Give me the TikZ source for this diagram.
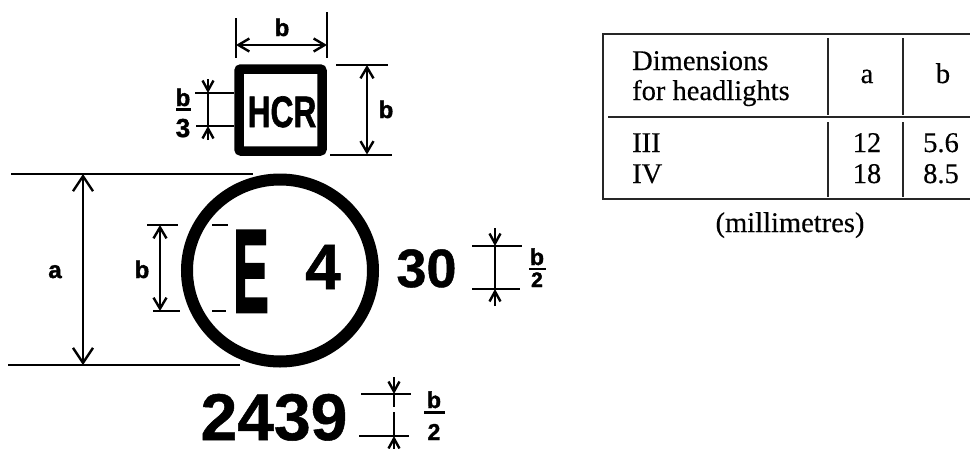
\documentclass[tikz,border=0pt]{standalone}
\usepackage{graphicx}
\usepackage{fontspec}
\setmainfont{Liberation Serif}[RawFeature={embolden=0.4}]
\newfontfamily\signfont{Liberation Sans Bold}[RawFeature={embolden=1.6}]
\newfontfamily\bigfont{Liberation Sans Bold}[RawFeature={embolden=0.8}]
\newfontfamily\efont{Liberation Sans Bold}[RawFeature={embolden=2.5}]
\usetikzlibrary{arrows.meta}
\newcommand{\sgn}[3][1]{\scalebox{#1}[1]{\fontsize{#2}{#2}\signfont #3}}
\newcommand{\bgn}[2]{\fontsize{#1}{#1}\bigfont #2}
\tikzset{
  x=1pt,y=-1pt,
  dimline/.style={line width=2pt,{Straight Barb[length=11pt,width=13pt,line width=2.4pt]}-{Straight Barb[length=11pt,width=13pt,line width=2.4pt]}},
  inarrow/.style={line width=2pt,-{Straight Barb[length=10pt,width=11pt,line width=2.4pt]}},
  extline/.style={line width=2pt},
  tabline/.style={line width=1.2pt,black!85},
  lab/.style={inner sep=0pt,anchor=base},
  tabtext/.style={inner sep=0pt,anchor=base,font=\fontsize{28.5}{29}\selectfont},
  tableft/.style={inner sep=0pt,anchor=base west,font=\fontsize{28.5}{29}\selectfont},
  fracbar/.style={line width=2.6pt},
}
\begin{document}
\begin{tikzpicture}
\useasboundingbox (0,0) rectangle (970,448);
% HCR plate
\draw[line width=9.5pt,rounded corners=2pt] (239,69) rectangle (322,151);
\node[lab] (hcr) at (282,127) {\sgn[0.72]{44}{HCR}};
% top dimension
\coordinate (t1a) at (236,18); \coordinate (t1b) at (236,58);
\coordinate (t2a) at (327,12); \coordinate (t2b) at (327,58);
\coordinate (ta) at (236,45); \coordinate (tb) at (327,45);
\draw[extline] (t1a)--(t1b); \draw[extline] (t2a)--(t2b);
\draw[dimline] (ta)--(tb);
\node[lab] (lbt) at (282,36) {\sgn{24}{b}};
% right dimension
\coordinate (r1a) at (336,65); \coordinate (r1b) at (388,65);
\coordinate (r2a) at (330,154.5); \coordinate (r2b) at (392,154.5);
\coordinate (ra) at (367,65); \coordinate (rb) at (367,154.5);
\draw[extline] (r1a)--(r1b); \draw[extline] (r2a)--(r2b);
\draw[dimline] (ra)--(rb);
\node[lab] (lbr) at (386,118) {\sgn{24}{b}};
% b/3
\coordinate (l1a) at (195,93); \coordinate (l1b) at (234,93);
\coordinate (l2a) at (196,126); \coordinate (l2b) at (234,126);
\coordinate (lta) at (208,79); \coordinate (ltb) at (208,93);
\coordinate (lba) at (208,140); \coordinate (lbb) at (208,126);
\draw[extline] (l1a)--(l1b); \draw[extline] (l2a)--(l2b);
\draw[inarrow] (lta)--(ltb); \draw[inarrow] (lba)--(lbb);
\draw[extline] (ltb)--(lbb);
\node[lab] (b3n) at (183,106) {\sgn{24}{b}};
\coordinate (b3a) at (176,109.5); \coordinate (b3b) at (191,109.5);
\draw[fracbar] (b3a)--(b3b);
\node[lab] (b3d) at (183,137) {\sgn{26}{3}};
% circle
\draw[line width=12pt] (280,270.5) ellipse [x radius=93,y radius=91];
\node[lab] (e) at (251,312) {\scalebox{0.45}[1]{\fontsize{118}{118}\efont E}};
\node[lab] (four) at (323,289) {\bgn{64}{4}};
\node[lab] (thirty) at (426.5,287) {\bgn{54}{30}};
\node[lab] (num) at (274,440) {\bgn{66}{2439}};
% a dimension
\coordinate (a1a) at (11,174); \coordinate (a1b) at (253,174);
\coordinate (a2a) at (8,365); \coordinate (a2b) at (240,365);
\coordinate (aa) at (83,174); \coordinate (ab) at (83,365);
\draw[extline] (a1a)--(a1b); \draw[extline] (a2a)--(a2b);
\draw[line width=2pt,{Straight Barb[length=15pt,width=20pt,line width=2.4pt]}-{Straight Barb[length=15pt,width=20pt,line width=2.4pt]}] (aa)--(ab);
\node[lab] (lba2) at (55,278) {\sgn{24}{a}};
% b dimension at circle
\coordinate (c1a) at (147,225); \coordinate (c1b) at (178,225);
\coordinate (c2a) at (153,311); \coordinate (c2b) at (180,311);
\coordinate (ca) at (160,225); \coordinate (cb) at (160,311);
\draw[extline] (c1a)--(c1b); \draw[extline] (c2a)--(c2b);
\draw[dimline] (ca)--(cb);
\node[lab] (lbc) at (142,278) {\sgn{24}{b}};
\coordinate (d1a) at (212,225); \coordinate (d1b) at (228,225);
\coordinate (d2a) at (212,311); \coordinate (d2b) at (226,311);
\draw[extline] (d1a)--(d1b); \draw[extline] (d2a)--(d2b);
% b/2 by 30
\coordinate (e1a) at (472,246); \coordinate (e1b) at (522,246);
\coordinate (e2a) at (472,289); \coordinate (e2b) at (520,289);
\coordinate (eta) at (495,228); \coordinate (etb) at (495,246);
\coordinate (eba) at (495,306); \coordinate (ebb) at (495,289);
\draw[extline] (e1a)--(e1b); \draw[extline] (e2a)--(e2b);
\draw[inarrow] (eta)--(etb); \draw[inarrow] (eba)--(ebb);
\draw[extline] (etb)--(ebb);
\node[lab] (b2n) at (537,265) {\sgn{23}{b}};
\coordinate (b2a) at (529,269); \coordinate (b2b) at (546,269);
\draw[fracbar] (b2a)--(b2b);
\node[lab] (b2d) at (537,287) {\sgn{21}{2}};
% b/2 by 2439
\coordinate (f1a) at (361,394); \coordinate (f1b) at (411,394);
\coordinate (f2a) at (359,436); \coordinate (f2b) at (409,436);
\coordinate (fta) at (394,377); \coordinate (ftb) at (394,394);
\coordinate (fba) at (394,450); \coordinate (fbb) at (394,436);
\coordinate (fg1) at (394,407); \coordinate (fg2) at (394,412);
\draw[extline] (f1a)--(f1b); \draw[extline] (f2a)--(f2b);
\draw[inarrow] (fta)--(ftb); \draw[inarrow] (fba)--(fbb);
\draw[extline] (ftb)--(fg1); \draw[extline] (fg2)--(fbb);
\node[lab] (b4n) at (434,408) {\sgn{23}{b}};
\coordinate (b4a) at (424,412.5); \coordinate (b4b) at (445,412.5);
\draw[fracbar] (b4a)--(b4b);
\node[lab] (b4d) at (434,440) {\sgn{23}{2}};
% table
\coordinate (ttr) at (970,34); \coordinate (ttl) at (603,34);
\coordinate (tbl) at (603,199); \coordinate (tbr) at (970,199);
\draw[tabline] (ttr)--(ttl)--(tbl)--(tbr);
\coordinate (hl) at (608,117); \coordinate (hr) at (970,117);
\draw[tabline] (hl)--(hr);
\coordinate (v1a) at (828,38); \coordinate (v1b) at (828,115);
\coordinate (v1c) at (828,122); \coordinate (v1d) at (828,197);
\coordinate (v2a) at (903,38); \coordinate (v2b) at (903,115);
\coordinate (v2c) at (903,122); \coordinate (v2d) at (903,197);
\draw[tabline] (v1a)--(v1b); \draw[tabline] (v1c)--(v1d);
\draw[tabline] (v2a)--(v2b); \draw[tabline] (v2c)--(v2d);
\node[tableft] (h1) at (632,70) {Dimensions};
\node[tableft] (h2) at (632,100) {for headlights};
\node[tabtext] (ha) at (867,83) {a};
\node[tabtext] (hb) at (943,83) {b};
\node[tableft] (r3) at (632,152) {III};
\node[tableft] (r4) at (632,183) {IV};
\node[tabtext] (c12) at (867,152) {12};
\node[tabtext] (c18) at (867,183) {18};
\node[tabtext] (c56) at (941,152) {5.6};
\node[tabtext] (c85) at (941,183) {8.5};
\node[tabtext] (mm) at (790,232) {(millimetres)};
\end{tikzpicture}
\end{document}
